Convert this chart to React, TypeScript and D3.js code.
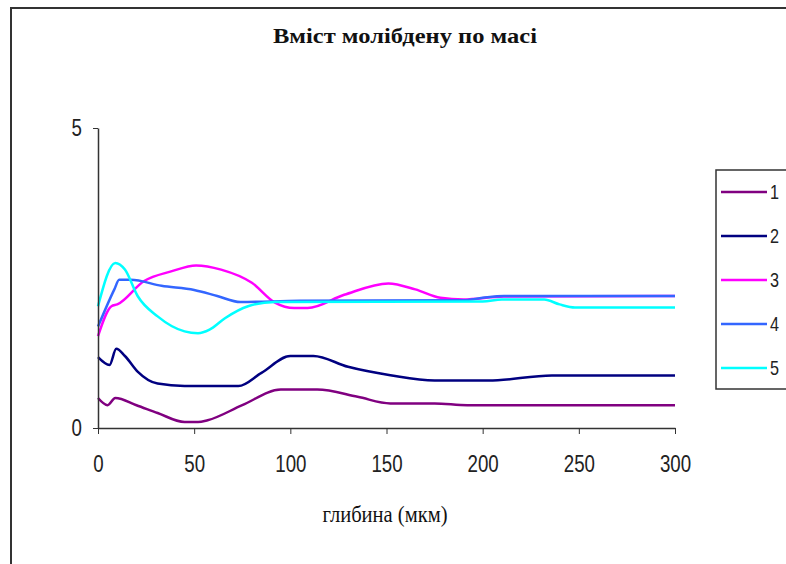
import { axisBottom, axisLeft, curveMonotoneX, line, scaleLinear, select } from 'd3';
import React, { useEffect, useRef } from 'react';

type Pt = [number, number];

// depth (мкм) -> Mo content
const series1: Pt[] = [
  [0, 0.5], [5, 0.38], [9, 0.5], [20, 0.38], [31, 0.25], [45, 0.1], [52, 0.1], [57, 0.13],
  [75, 0.38], [95, 0.64], [114, 0.64], [135, 0.52], [152, 0.41], [175, 0.41], [192, 0.38], [300, 0.38],
];
const series2: Pt[] = [
  [0, 1.18], [6, 1.05], [9.5, 1.32], [14, 1.2], [20.6, 0.94], [31, 0.74], [45, 0.7], [73, 0.7],
  [85, 0.92], [100, 1.2], [112, 1.2], [130, 1.02], [152, 0.88], [175, 0.79], [203, 0.79], [236, 0.875], [300, 0.875],
];
const series3: Pt[] = [
  [0, 1.53], [7, 2.03], [10, 2.06], [24, 2.45], [38, 2.61], [51, 2.71], [64, 2.64], [80, 2.42],
  [92, 2.09], [102, 2.0], [109, 2.0], [128, 2.22], [151, 2.41], [165, 2.31], [178, 2.17], [190, 2.14],
  [211, 2.19], [300, 2.2],
];
const series4: Pt[] = [
  [0, 1.69], [8.5, 2.31], [11, 2.47], [17, 2.47], [33, 2.37], [50, 2.3], [62, 2.2], [74, 2.1],
  [105, 2.12], [190, 2.13], [200, 2.17], [211, 2.2], [300, 2.2],
];
const series5: Pt[] = [
  [0, 2.03], [9, 2.75], [14, 2.64], [20.6, 2.2], [31, 1.86], [45, 1.61], [52, 1.58], [58, 1.64],
  [66, 1.83], [78, 2.03], [92, 2.1], [200, 2.11], [210, 2.14], [232, 2.14], [240, 2.06], [248, 2.01], [300, 2.01],
];

const names = ['1', '2', '3', '4', '5'];
const colors = ['#800080', '#000080', '#ff00ff', '#3366ff', '#00ffff'];
const allSeries = [series1, series2, series3, series4, series5];

const xTicks = [0, 50, 100, 150, 200, 250, 300];
const yTicks = [0, 5];

const title = 'Вміст молібдену по масі';
const xLabel = 'глибина (мкм)';

const W = 786;
const H = 564;
const left = 98;
const right = 675;
const top = 128;
const bottom = 428;

const App: React.FC = () => {
  const svgRef = useRef<SVGSVGElement>(null);

  useEffect(() => {
    const svg = select(svgRef.current);

    // Scales
    const x = scaleLinear().domain([0, 300]).range([left, right]);
    const y = scaleLinear().domain([0, 5]).range([bottom, top]);

    // Axes
    const fmt = (d: any) => String(d);
    const xAxis = axisBottom(x).tickValues(xTicks).tickFormat(fmt).tickSizeInner(6).tickSizeOuter(0);
    const yAxis = axisLeft(y).tickValues(yTicks).tickFormat(fmt).tickSizeInner(5).tickSizeOuter(0);

    const styleLabels = (g: any) =>
      g
        .selectAll('text')
        .attr('font-family', '"Liberation Sans", Arial, sans-serif')
        .attr('font-size', 24)
        .attr('fill', '#222')
        .attr('textLength', (d: number) => String(d).length * 10.4)
        .attr('lengthAdjust', 'spacingAndGlyphs');

    const gx = svg
      .select<SVGGElement>('.x-axis')
      .attr('transform', `translate(0, ${bottom})`)
      .attr('color', '#333')
      .call(xAxis);
    gx.select('.domain').attr('stroke-width', 1.5);
    styleLabels(gx).attr('y', 27);

    const gy = svg
      .select<SVGGElement>('.y-axis')
      .attr('transform', `translate(${left}, 0)`)
      .attr('color', '#333')
      .call(yAxis);
    gy.select('.domain').attr('stroke-width', 1.5);
    styleLabels(gy).attr('x', -16);

    // Lines
    const path = line<Pt>()
      .x((d) => x(d[0]))
      .y((d) => y(d[1]))
      .curve(curveMonotoneX);

    svg
      .select('.lines')
      .selectAll('path')
      .data(allSeries)
      .join('path')
      .attr('fill', 'none')
      .attr('stroke', (_, i) => colors[i])
      .attr('stroke-width', 2.5)
      .attr('stroke-linejoin', 'round')
      .attr('d', path);

    // Legend
    const legend = svg.select('.legend');
    const rows = legend
      .selectAll('g')
      .data(names)
      .join('g')
      .attr('transform', (_, i) => `translate(721, ${192 + i * 44})`);
    rows
      .selectAll('line')
      .data((d, i) => [i])
      .join('line')
      .attr('x1', 0)
      .attr('x2', 46)
      .attr('stroke', (i) => colors[i])
      .attr('stroke-width', 2.5);
    rows
      .selectAll('text')
      .data((d) => [d])
      .join('text')
      .attr('x', 49)
      .attr('dy', '0.35em')
      .attr('font-family', '"Liberation Sans", Arial, sans-serif')
      .attr('font-size', 21)
      .attr('fill', '#222')
      .attr('textLength', 9)
      .attr('lengthAdjust', 'spacingAndGlyphs')
      .text((d) => d);
  }, []);

  return (
    <svg
      ref={svgRef}
      width={W}
      height={H}
      style={{ position: 'absolute', left: 0, top: 0, background: '#fff' }}
    >
      <rect x={11} y={8} width={900} height={700} fill="#fff" stroke="#333" strokeWidth={2} />
      <text
        x={405}
        y={43}
        textAnchor="middle"
        fontFamily='"Liberation Serif", "Times New Roman", serif'
        fontWeight="bold"
        fontSize={21}
        textLength={264}
        lengthAdjust="spacingAndGlyphs"
        fill="#111"
      >
        {title}
      </text>
      <g className="lines" />
      <g className="x-axis" />
      <g className="y-axis" />
      <text
        x={385}
        y={522}
        textAnchor="middle"
        fontFamily='"Liberation Serif", "Times New Roman", serif'
        fontSize={23}
        textLength={125}
        lengthAdjust="spacingAndGlyphs"
        fill="#111"
      >
        {xLabel}
      </text>
      <g className="legend">
        <rect x={716} y={170} width={120} height={219} fill="#fff" stroke="#333" strokeWidth={1.5} />
      </g>
    </svg>
  );
};

export default App;
